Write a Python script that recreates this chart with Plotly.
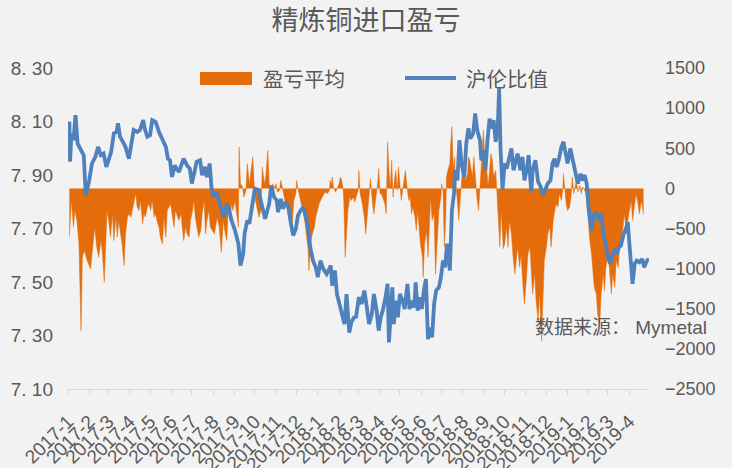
import plotly.graph_objects as go

# ---------------- data ----------------
month_labels = ["2017-1", "2017-2", "2017-3", "2017-4", "2017-5", "2017-6", "2017-7",
                "2017-8", "2017-9", "2017-10", "2017-11", "2017-12",
                "2018-1", "2018-2", "2018-3", "2018-4", "2018-5", "2018-6", "2018-7",
                "2018-8", "2018-9", "2018-10", "2018-11", "2018-12",
                "2019-1", "2019-2", "2019-3", "2019-4"]

ratio_ticks = [7.10, 7.30, 7.50, 7.70, 7.90, 8.10, 8.30]
ratio_ticktext = ["7. 10", "7. 30", "7. 50", "7. 70", "7. 90", "8. 10", "8. 30"]

# 沪伦比值 (left axis)
ratio_dates = [
    "2017-01-03", "2017-01-04", "2017-01-06", "2017-01-09", "2017-01-12", "2017-01-15", "2017-01-20", "2017-01-24", "2017-01-27",
    "2017-02-01", "2017-02-05", "2017-02-10", "2017-02-14", "2017-02-18", "2017-02-22", "2017-02-26",
    "2017-03-02", "2017-03-05", "2017-03-09", "2017-03-13", "2017-03-15", "2017-03-18", "2017-03-21", "2017-03-26", "2017-03-31",
    "2017-04-03", "2017-04-07", "2017-04-12", "2017-04-16", "2017-04-21", "2017-04-23", "2017-04-27",
    "2017-05-01", "2017-05-04", "2017-05-09", "2017-05-14", "2017-05-19", "2017-05-24", "2017-05-27", "2017-05-30",
    "2017-06-02", "2017-06-06", "2017-06-12", "2017-06-15", "2017-06-19", "2017-06-24", "2017-06-28",
    "2017-07-01", "2017-07-08", "2017-07-13", "2017-07-16", "2017-07-20", "2017-07-23", "2017-07-27", "2017-07-30",
    "2017-08-02", "2017-08-06", "2017-08-10", "2017-08-13", "2017-08-17", "2017-08-21", "2017-08-24", "2017-08-28",
    "2017-09-02", "2017-09-07", "2017-09-10", "2017-09-14", "2017-09-16", "2017-09-20", "2017-09-23", "2017-09-25", "2017-09-28",
    "2017-10-01", "2017-10-06", "2017-10-09", "2017-10-12", "2017-10-16", "2017-10-19", "2017-10-22", "2017-10-25", "2017-10-29",
    "2017-11-02", "2017-11-04", "2017-11-08", "2017-11-11", "2017-11-15", "2017-11-19", "2017-11-22", "2017-11-26", "2017-11-30",
    "2017-12-03", "2017-12-07", "2017-12-11", "2017-12-14", "2017-12-18", "2017-12-21", "2017-12-25", "2017-12-29",
    "2018-01-01", "2018-01-05", "2018-01-09", "2018-01-14", "2018-01-20", "2018-01-22", "2018-01-26", "2018-01-29",
    "2018-02-02", "2018-02-06", "2018-02-09", "2018-02-12", "2018-02-16", "2018-02-19", "2018-02-23", "2018-02-26",
    "2018-03-02", "2018-03-06", "2018-03-10", "2018-03-13", "2018-03-17", "2018-03-21", "2018-03-24", "2018-03-28", "2018-03-31",
    "2018-04-03", "2018-04-06", "2018-04-10", "2018-04-13", "2018-04-15", "2018-04-18", "2018-04-20", "2018-04-22", "2018-04-25", "2018-04-28",
    "2018-05-01", "2018-05-05", "2018-05-08", "2018-05-12", "2018-05-15", "2018-05-18", "2018-05-22", "2018-05-24", "2018-05-27", "2018-05-30",
    "2018-06-02", "2018-06-05", "2018-06-08", "2018-06-11", "2018-06-14", "2018-06-17", "2018-06-20", "2018-06-23", "2018-06-27", "2018-06-30",
    "2018-07-03", "2018-07-06", "2018-07-09", "2018-07-13", "2018-07-16", "2018-07-19", "2018-07-21", "2018-07-24", "2018-07-27", "2018-07-30",
    "2018-08-03", "2018-08-06", "2018-08-09", "2018-08-12", "2018-08-16", "2018-08-19", "2018-08-22", "2018-08-26", "2018-08-28",
    "2018-09-01", "2018-09-03", "2018-09-06", "2018-09-09", "2018-09-12", "2018-09-15", "2018-09-18", "2018-09-21", "2018-09-23", "2018-09-25", "2018-09-28",
    "2018-10-01", "2018-10-04", "2018-10-07", "2018-10-11", "2018-10-14", "2018-10-17", "2018-10-20", "2018-10-24", "2018-10-27", "2018-10-30",
    "2018-11-03", "2018-11-05", "2018-11-09", "2018-11-11", "2018-11-15", "2018-11-19", "2018-11-22", "2018-11-26", "2018-11-30",
    "2018-12-03", "2018-12-07", "2018-12-10", "2018-12-13", "2018-12-16", "2018-12-19", "2018-12-23", "2018-12-26", "2018-12-29",
    "2019-01-01", "2019-01-05", "2019-01-09", "2019-01-13", "2019-01-16", "2019-01-20", "2019-01-22", "2019-01-26", "2019-01-29",
    "2019-02-01", "2019-02-05", "2019-02-08", "2019-02-12", "2019-02-16", "2019-02-19", "2019-02-23", "2019-02-25",
    "2019-03-01", "2019-03-04", "2019-03-07", "2019-03-11", "2019-03-14", "2019-03-17", "2019-03-20", "2019-03-24", "2019-03-28", "2019-03-30",
    "2019-04-01", "2019-04-04", "2019-04-06", "2019-04-09", "2019-04-12", "2019-04-16", "2019-04-20", "2019-04-23", "2019-04-27", "2019-04-30",
]
ratio_values = [
    8.100, 7.950, 8.055, 8.030, 8.124, 8.018, 7.993, 7.974, 7.824,
    7.880, 7.943, 7.968, 8.005, 7.974, 7.980, 7.930,
    7.961, 7.986, 8.055, 8.061, 8.093, 8.043, 8.030, 8.005, 7.961,
    8.005, 8.068, 8.061, 8.068, 8.105, 8.074, 8.043,
    8.049, 8.105, 8.099, 8.061, 8.030, 8.005, 7.961, 7.955,
    7.892, 7.936, 7.911, 7.936, 7.961, 7.936, 7.924,
    7.868, 7.949, 7.955, 7.899, 7.930, 7.892, 7.943, 7.843,
    7.818, 7.836, 7.805, 7.768, 7.743, 7.793, 7.774, 7.730,
    7.693, 7.643, 7.561, 7.605, 7.680, 7.730, 7.718, 7.749, 7.805,
    7.849, 7.845, 7.818, 7.780, 7.736, 7.768, 7.793, 7.861, 7.818,
    7.805, 7.761, 7.811, 7.774, 7.799, 7.780, 7.730, 7.674, 7.699,
    7.749, 7.768, 7.780, 7.749, 7.699, 7.630, 7.580, 7.555,
    7.518, 7.580, 7.549, 7.530, 7.561, 7.486, 7.543, 7.455,
    7.418, 7.380, 7.343, 7.455, 7.311, 7.349, 7.368, 7.370,
    7.443, 7.418, 7.468, 7.418, 7.343, 7.380, 7.455, 7.393, 7.318,
    7.368, 7.393, 7.443, 7.493, 7.274, 7.380, 7.480, 7.343, 7.430, 7.368,
    7.455, 7.430, 7.399, 7.493, 7.399, 7.430, 7.405, 7.499, 7.393, 7.443,
    7.399, 7.468, 7.511, 7.286, 7.330, 7.293, 7.418, 7.468, 7.480, 7.518,
    7.580, 7.555, 7.643, 7.543, 7.768, 7.830, 7.918, 7.880, 8.030, 7.943,
    7.892, 8.018, 8.074, 8.036, 8.055, 8.130, 8.068, 8.030, 7.955,
    7.993, 7.918, 8.030, 8.111, 8.074, 8.105, 8.024, 8.080, 8.224, 8.000, 7.845,
    7.943, 7.924, 7.961, 7.999, 7.918, 7.955, 7.980, 7.918, 7.968, 7.880,
    7.930, 7.974, 7.836, 7.918, 7.955, 7.874, 7.861, 7.824, 7.855,
    7.868, 7.880, 7.943, 7.961, 7.930, 7.955, 8.005, 8.024, 7.986,
    7.943, 7.999, 7.955, 7.905, 7.868, 7.905, 7.880, 7.899, 7.868,
    7.768, 7.693, 7.749, 7.761, 7.730, 7.755, 7.668, 7.655,
    7.593, 7.568, 7.593, 7.624, 7.605, 7.630, 7.636, 7.680, 7.705, 7.724,
    7.655, 7.555, 7.493, 7.568, 7.580, 7.574, 7.586, 7.555, 7.580, 7.586,
]

# 盈亏平均 (right axis, yuan/ton)
pl_dates = [
    "2017-01-03", "2017-01-06", "2017-01-09", "2017-01-11", "2017-01-14", "2017-01-17", "2017-01-20", "2017-01-22", "2017-01-25", "2017-01-29",
    "2017-02-03", "2017-02-07", "2017-02-09", "2017-02-12", "2017-02-15", "2017-02-18", "2017-02-20", "2017-02-23", "2017-02-25", "2017-02-27",
    "2017-03-02", "2017-03-04", "2017-03-07", "2017-03-09", "2017-03-12", "2017-03-14", "2017-03-16", "2017-03-19", "2017-03-21", "2017-03-24", "2017-03-26", "2017-03-29", "2017-03-31",
    "2017-04-03", "2017-04-05", "2017-04-07", "2017-04-10", "2017-04-12", "2017-04-15", "2017-04-17", "2017-04-20", "2017-04-22", "2017-04-24", "2017-04-27", "2017-04-29",
    "2017-05-02", "2017-05-04", "2017-05-07", "2017-05-09", "2017-05-11", "2017-05-14", "2017-05-16", "2017-05-19", "2017-05-21", "2017-05-24", "2017-05-26", "2017-05-28", "2017-05-31",
    "2017-06-02", "2017-06-05", "2017-06-07", "2017-06-10", "2017-06-12", "2017-06-15", "2017-06-17", "2017-06-19", "2017-06-22", "2017-06-24", "2017-06-27", "2017-06-29",
    "2017-07-02", "2017-07-04", "2017-07-06", "2017-07-09", "2017-07-11", "2017-07-14", "2017-07-16", "2017-07-19", "2017-07-21", "2017-07-23", "2017-07-26", "2017-07-28", "2017-07-31",
    "2017-08-03", "2017-08-07", "2017-08-10", "2017-08-13", "2017-08-16", "2017-08-18", "2017-08-21", "2017-08-23", "2017-08-26", "2017-08-28", "2017-08-30",
    "2017-09-02", "2017-09-04", "2017-09-07", "2017-09-08", "2017-09-10", "2017-09-13", "2017-09-15", "2017-09-18", "2017-09-20", "2017-09-23", "2017-09-25", "2017-09-28", "2017-09-30",
    "2017-10-02", "2017-10-05", "2017-10-07", "2017-10-10", "2017-10-12", "2017-10-15", "2017-10-17", "2017-10-20", "2017-10-22", "2017-10-24", "2017-10-27", "2017-10-29",
    "2017-11-01", "2017-11-03", "2017-11-06", "2017-11-08", "2017-11-10", "2017-11-13", "2017-11-15", "2017-11-18", "2017-11-20", "2017-11-23", "2017-11-25", "2017-11-27", "2017-11-30",
    "2017-12-01", "2017-12-03", "2017-12-06", "2017-12-08", "2017-12-11", "2017-12-13", "2017-12-15", "2017-12-18", "2017-12-19", "2017-12-22", "2017-12-24", "2017-12-27", "2017-12-29", "2017-12-31",
    "2018-01-03", "2018-01-05", "2018-01-08", "2018-01-10", "2018-01-13", "2018-01-15", "2018-01-18", "2018-01-19", "2018-01-21", "2018-01-22", "2018-01-24", "2018-01-27", "2018-01-29",
    "2018-02-01", "2018-02-03", "2018-02-05", "2018-02-07", "2018-02-08", "2018-02-10", "2018-02-12", "2018-02-14", "2018-02-17", "2018-02-19", "2018-02-22", "2018-02-24", "2018-02-26",
    "2018-03-01", "2018-03-02", "2018-03-04", "2018-03-07", "2018-03-10", "2018-03-12", "2018-03-15", "2018-03-17", "2018-03-19", "2018-03-22", "2018-03-24", "2018-03-27", "2018-03-29", "2018-03-31",
    "2018-04-02", "2018-04-04", "2018-04-06", "2018-04-09", "2018-04-11", "2018-04-13", "2018-04-15", "2018-04-17", "2018-04-19", "2018-04-21", "2018-04-23", "2018-04-25", "2018-04-27", "2018-04-29",
    "2018-05-01", "2018-05-03", "2018-05-05", "2018-05-07", "2018-05-09", "2018-05-12", "2018-05-14", "2018-05-16", "2018-05-18", "2018-05-20", "2018-05-23", "2018-05-25", "2018-05-27", "2018-05-29", "2018-05-31",
    "2018-06-03", "2018-06-04", "2018-06-06", "2018-06-09", "2018-06-11", "2018-06-13", "2018-06-15", "2018-06-17", "2018-06-20", "2018-06-22", "2018-06-25", "2018-06-27", "2018-06-30",
    "2018-07-01", "2018-07-03", "2018-07-05", "2018-07-07", "2018-07-08", "2018-07-10", "2018-07-13", "2018-07-14", "2018-07-16", "2018-07-18", "2018-07-20", "2018-07-21", "2018-07-23", "2018-07-25", "2018-07-26", "2018-07-29", "2018-07-30",
    "2018-08-01", "2018-08-03", "2018-08-05", "2018-08-08", "2018-08-09", "2018-08-11", "2018-08-13", "2018-08-15", "2018-08-17", "2018-08-20", "2018-08-22", "2018-08-24", "2018-08-26", "2018-08-27", "2018-08-29", "2018-08-31",
    "2018-09-02", "2018-09-05", "2018-09-07", "2018-09-09", "2018-09-11", "2018-09-13", "2018-09-15", "2018-09-18", "2018-09-19", "2018-09-22", "2018-09-24", "2018-09-26", "2018-09-29",
    "2018-10-01", "2018-10-04", "2018-10-06", "2018-10-08", "2018-10-11", "2018-10-13", "2018-10-16", "2018-10-18", "2018-10-20", "2018-10-23", "2018-10-25", "2018-10-28", "2018-10-30",
    "2018-11-02", "2018-11-04", "2018-11-07", "2018-11-09", "2018-11-11", "2018-11-14", "2018-11-16", "2018-11-19", "2018-11-21", "2018-11-24", "2018-11-26", "2018-11-28",
    "2018-12-01", "2018-12-03", "2018-12-06", "2018-12-08", "2018-12-11", "2018-12-13", "2018-12-15", "2018-12-18", "2018-12-20", "2018-12-23", "2018-12-25", "2018-12-26", "2018-12-28", "2018-12-30",
    "2019-01-01", "2019-01-04", "2019-01-06", "2019-01-08", "2019-01-10", "2019-01-12", "2019-01-14", "2019-01-16", "2019-01-19", "2019-01-21", "2019-01-23", "2019-01-26", "2019-01-28", "2019-01-31",
    "2019-02-02", "2019-02-05", "2019-02-07", "2019-02-09", "2019-02-12", "2019-02-14", "2019-02-17", "2019-02-19", "2019-02-22", "2019-02-24", "2019-02-26",
    "2019-03-01", "2019-03-03", "2019-03-06", "2019-03-08", "2019-03-11", "2019-03-13", "2019-03-16", "2019-03-18", "2019-03-20", "2019-03-23", "2019-03-25", "2019-03-28", "2019-03-30",
    "2019-04-02", "2019-04-04", "2019-04-06", "2019-04-09", "2019-04-11", "2019-04-14", "2019-04-16", "2019-04-19", "2019-04-22",
]
pl_values = [
    -608, -150, -483, -275, -400, -692, -1775, -858, -775, -900,
    -1004, -692, -483, -733, -858, -650, -775, -1171, -692, -275,
    -442, -608, -317, -650, -358, -608, -400, -567, -692, -962, -567, -358, -317,
    -358, -275, -192, -67, -233, -275, -150, -442, -317, -358, -233, -192,
    -275, -150, -358, -317, -400, -483, -608, -692, -358, -608, -275, -233, -192,
    -317, -483, -275, -358, -400, -317, -525, -650, -483, -567, -608, -400,
    -275, -150, -358, -483, -608, -525, -317, -150, -567, -400, -275, -483, -525,
    -567, -358, -483, -796, -400, -525, -650, -275, -400, -192, -275,
    -150, -317, -483, 517, 58, 17, -108, -25, 308, 58, 183, 392, 58,
    -150, -275, -358, -275, 267, 58, 142, 475, 58, -25, 58, -4,
    58, -46, -25, 100, -4, -108, -192, -275, -358, -442, -400, -150, -67,
    100, -4, -108, -192, -317, -400, -567, -775, -1025, -650, -567, -483, -358, -275,
    -192, -150, -108, -67, -46, -67, -25, 100, 38, 142, 17, -46, -4,
    58, 142, 100, -4, -150, -858, -483, -275, -108, -150, -108, -171, -108,
    -25, 225, -67, -192, -358, -567, -275, -67, 121, -192, -317, -108, 17, 246,
    -67, -67, -108, -192, -317, 579, 225, -4, 350, -108, 100, 225, -25, 267,
    58, -150, -25, 100, 225, -25, -150, -108, -317, -233, -358, -525, -275, -483, -692,
    -858, -1108, -692, -525, -858, -358, -108, -400, -317, -1067, -483, -275, -108,
    58, -25, -733, -358, 142, 225, 308, 517, 767, 225, 392, 142, -25, -275, -400, 17, 142,
    308, 225, 100, 183, 392, 350, 225, 142, 392, 17, -150, -275, 17, 225, 475, 725,
    392, 225, 17, 225, 433, 350, 142, 225, 17, -400, -733, -275, -750,
    -692, -483, -733, -400, -567, -817, -1067, -900, -733, -983, -817, -1233, -1442,
    -1108, -817, -733, -983, -1317, -1067, -1400, -1650, -1317, -1900, -1317, -900,
    -733, -567, -483, -733, -400, -317, -192, -233, -67, -150, -25, 183, -67, -192,
    -275, -233, -108, 142, -67, 17, 100, -46, 38, -67, 17, -25, -67, -358,
    -608, -817, -983, -1233, -1317, -1567, -1692, -1317, -1067, -1275, -983,
    -817, -983, -1317, -1067, -1233, -900, -983, -733, -650, -483, -317, -567, -400,
    -275, -150, -400, -233, -67, -192, -317, -150, -330,
]

assert len(ratio_dates) == len(ratio_values)
assert len(pl_dates) == len(pl_values)

# ---------------- style ----------------
ORANGE = "#E46C0A"
BLUE = "#4F81BD"
GREY = "#595959"
AXIS = "#D9D9D9"
BG = "#F2F2F2"
FONT = "Liberation Sans, Arial, Noto Sans CJK SC, sans-serif"
CJK = "Noto Sans CJK SC, sans-serif"

W, H = 732, 468
ML, MR, MT, MB = 68, 83, 68, 79
PW, PH = W - ML - MR, H - MT - MB


def px(x):
    return (x - ML) / PW


def py(y):
    return (H - MB - y) / PH


tickvals = []
for lab in month_labels:
    yy, mm = lab.split("-")
    tickvals.append(f"{yy}-{int(mm):02d}-01")

fig = go.Figure()
fig.add_trace(go.Scatter(
    x=pl_dates, y=pl_values, name="盈亏平均", mode="lines",
    line=dict(width=0.5, color=ORANGE), fill="tozeroy", fillcolor=ORANGE,
    yaxis="y", showlegend=False))
fig.add_trace(go.Scatter(
    x=ratio_dates, y=ratio_values, name="沪伦比值", mode="lines",
    line=dict(width=3.8, color=BLUE), yaxis="y2", showlegend=False))

fig.update_layout(
    width=W, height=H,
    margin=dict(l=ML, r=MR, t=MT, b=MB, pad=0, autoexpand=False),
    paper_bgcolor=BG, plot_bgcolor=BG,
    font=dict(family=FONT, color=GREY, size=18),
    title=dict(text="精炼铜进口盈亏", x=0.5, xanchor="center", xref="container",
               y=1 - 21 / H, yanchor="middle", yref="container",
               font=dict(family=CJK, size=27, color=GREY)),
    xaxis=dict(type="date", range=["2017-01-01", "2019-04-30"],
               tickvals=tickvals, ticktext=month_labels, tickangle=-45,
               ticks="outside", ticklen=5, tickcolor=AXIS, tickwidth=1,
               ticklabelstandoff=8, automargin=False,
               showline=True, linecolor=AXIS, linewidth=1,
               showgrid=False, zeroline=False,
               tickfont=dict(size=19, color=GREY)),
    yaxis=dict(side="right", range=[-2500, 1500], tick0=0, dtick=500,
               showgrid=False, zeroline=False, showline=False, ticks="",
               automargin=False,
               ticklabelstandoff=15, tickfont=dict(size=18, color=GREY)),
    yaxis2=dict(side="left", overlaying="y", range=[7.10, 8.30],
                tickvals=ratio_ticks, ticktext=ratio_ticktext,
                showgrid=False, zeroline=False, showline=False, ticks="",
                automargin=False,
                ticklabelstandoff=14, tickfont=dict(size=19, color=GREY)),
    showlegend=False,
)

# legend (drawn as shapes + text, matching the original's wide swatches)
fig.add_shape(type="rect", xref="paper", yref="paper",
              x0=px(200), x1=px(252), y0=py(85), y1=py(72),
              fillcolor=ORANGE, line=dict(width=0))
fig.add_annotation(text="盈亏平均", xref="paper", yref="paper", x=px(261), y=py(78),
                   xanchor="left", yanchor="middle", showarrow=False,
                   font=dict(family=CJK, size=20.5, color=GREY))
fig.add_shape(type="line", xref="paper", yref="paper",
              x0=px(405), x1=px(456), y0=py(78), y1=py(78),
              line=dict(color=BLUE, width=3.8))
fig.add_annotation(text="沪伦比值", xref="paper", yref="paper", x=px(464), y=py(78),
                   xanchor="left", yanchor="middle", showarrow=False,
                   font=dict(family=CJK, size=20.5, color=GREY))

# source note
fig.add_annotation(text="数据来源： Mymetal", xref="paper", yref="paper", x=px(709), y=py(327),
                   xanchor="right", yanchor="middle", showarrow=False,
                   font=dict(family="Liberation Sans, Noto Sans CJK SC, sans-serif", size=19, color=GREY))

fig.write_html(
    "out.html",
    config={"displayModeBar": False},
    post_script="document.body.style.margin='0';document.body.style.background='#F2F2F2';",
)
